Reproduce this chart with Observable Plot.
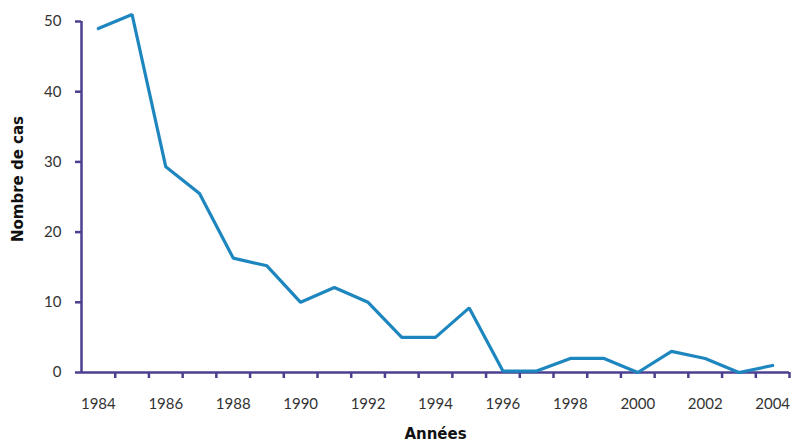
<!DOCTYPE html>
<html>
<head>
<meta charset="utf-8">
<script src="https://cdn.jsdelivr.net/npm/d3@7"></script>
<script src="https://cdn.jsdelivr.net/npm/@observablehq/plot@0.6"></script>
<style>
  body { margin: 0; background: #fff; }
  #chart svg { font-family: "Lato", "Open Sans", sans-serif; }
</style>
</head>
<body>
<div id="chart"></div>
<script>
const years = [1984,1985,1986,1987,1988,1989,1990,1991,1992,1993,1994,1995,1996,1997,1998,1999,2000,2001,2002,2003,2004];
const cases = [49,51,29.3,25.5,16.3,15.2,10,12.1,10,5,5,9.2,0.2,0.2,2,2,0,3,2,0,1];
const yTicks = [0,10,20,30,40,50];
const xLabelTicks = [1984,1986,1988,1990,1992,1994,1996,1998,2000,2002,2004];
const xTitle = "Années";
const yTitle = "Nombre de cas";

const data = years.map((y, i) => ({year: y, value: cases[i]}));
const axisColor = "#4b3f8f";

const chart = Plot.plot({
  width: 795,
  height: 443,
  marginLeft: 81,
  marginRight: 6,
  marginTop: 21,
  marginBottom: 71,
  x: {domain: [1983.5, 2004.5]},
  y: {domain: [0, 50]},
  marks: [
    Plot.axisY({ticks: yTicks, tickSize: 6, tickPadding: 14, stroke: axisColor, strokeWidth: 2.5, fill: "#333", fontSize: 15, label: null}),
    Plot.ruleX([1983.5], {y1: 0, y2: 50, stroke: axisColor, strokeWidth: 2.5}),
    Plot.axisX({ticks: d3.range(1984.5, 2005, 1), tickSize: 6, tickFormat: () => "", stroke: axisColor, strokeWidth: 2.5, label: null}),
    Plot.axisX({ticks: xLabelTicks, tickSize: 0, tickPadding: 26, tickFormat: d => String(d), fill: "#333", fontSize: 15, label: null}),
    Plot.ruleY([0], {x1: 1983.5, x2: 2004.5, stroke: axisColor, strokeWidth: 2.5}),
    Plot.line(data, {x: "year", y: "value", stroke: "#1e86bf", strokeWidth: 3.2, strokeLinejoin: "miter"}),
    Plot.text([yTitle], {frameAnchor: "left", textAnchor: "middle", rotate: -90, dx: -63, dy: -18, fontWeight: "bold", fontSize: 15, fontFamily: "DejaVu Sans", fill: "#111"}),
    Plot.text([xTitle], {frameAnchor: "bottom", textAnchor: "middle", dy: 66, fontWeight: "bold", fontSize: 15, fontFamily: "DejaVu Sans", fill: "#111"})
  ]
});
document.getElementById("chart").appendChild(chart);
</script>
</body>
</html>
